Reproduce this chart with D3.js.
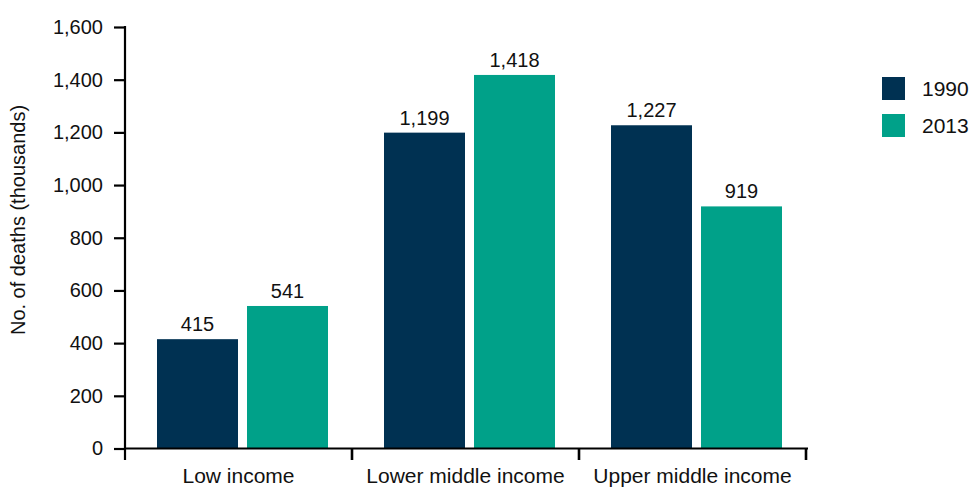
<!DOCTYPE html>
<html>
<head>
<meta charset="utf-8">
<script src="https://cdn.jsdelivr.net/npm/d3@7/dist/d3.min.js"></script>
<style>
  html, body { margin: 0; padding: 0; background: #fff; }
  svg { display: block; font-family: "Liberation Sans", Arial, Helvetica, sans-serif; }
</style>
</head>
<body>
<svg id="chart" width="972" height="487"></svg>
<script>
const categories = ["Low income", "Lower middle income", "Upper middle income"];
const seriesNames = ["1990", "2013"];
const values1990 = [415, 1199, 1227];
const values2013 = [541, 1418, 919];
const yTicks = [0, 200, 400, 600, 800, 1000, 1200, 1400, 1600];
const colors = ["#003152", "#00a189"];
const yLabel = "No. of deaths (thousands)";

const seriesValues = [values1990, values2013];
const data = categories.map((c, i) => ({
  category: c,
  vals: seriesNames.map((s, j) => ({ series: s, value: seriesValues[j][i], color: colors[j] }))
}));

const svg = d3.select("#chart");
const axisX = 125, xEnd = 806, y0 = 448.5, yTop = 27;

const y = d3.scaleLinear().domain([0, 1600]).range([y0, yTop]);
const x0 = d3.scaleBand().domain(categories).range([axisX, xEnd]).padding(0);
const x1 = d3.scaleBand().domain(seriesNames).range([32, 203]).paddingInner(0.1).paddingOuter(0);

// bars
const groups = svg.append("g").selectAll("g").data(data).join("g")
  .attr("transform", d => `translate(${x0(d.category)},0)`);
groups.selectAll("rect").data(d => d.vals).join("rect")
  .attr("x", d => x1(d.series))
  .attr("width", x1.bandwidth())
  .attr("y", d => y(d.value))
  .attr("height", d => y(0) - y(d.value))
  .attr("fill", d => d.color);
groups.selectAll("text").data(d => d.vals).join("text")
  .attr("x", d => x1(d.series) + x1.bandwidth() / 2)
  .attr("y", d => y(d.value) - 8)
  .attr("text-anchor", "middle")
  .attr("font-size", 20)
  .attr("fill", "#111")
  .text(d => d3.format(",")(d.value));

// y axis
const yAxis = d3.axisLeft(y).tickValues(yTicks).tickSize(11).tickPadding(11).tickFormat(d3.format(","));
const gy = svg.append("g").attr("transform", `translate(${axisX},0)`).call(yAxis);
gy.select(".domain").remove();
gy.selectAll(".tick line").attr("stroke", "#000").attr("stroke-width", 2.2);
gy.selectAll(".tick text").attr("font-size", 20).attr("fill", "#111")
  .attr("font-family", "Liberation Sans, Arial, sans-serif");

svg.append("line").attr("x1", axisX).attr("x2", axisX).attr("y1", yTop - 1).attr("y2", 460)
  .attr("stroke", "#000").attr("stroke-width", 2.2);

// x axis
svg.append("line").attr("x1", axisX).attr("x2", xEnd + 2).attr("y1", y0).attr("y2", y0)
  .attr("stroke", "#000").attr("stroke-width", 2.2);
const bounds = categories.map(c => x0(c) + x0.bandwidth());
svg.append("g").selectAll("line").data(bounds).join("line")
  .attr("x1", d => d).attr("x2", d => d).attr("y1", y0).attr("y2", 460)
  .attr("stroke", "#000").attr("stroke-width", 2.6);
svg.append("g").selectAll("text").data(categories).join("text")
  .attr("x", d => x0(d) + x0.bandwidth() / 2)
  .attr("y", 483)
  .attr("text-anchor", "middle")
  .attr("font-size", 21)
  .attr("fill", "#111")
  .text(d => d);

// y label
svg.append("text")
  .attr("transform", `translate(25,220) rotate(-90)`)
  .attr("text-anchor", "middle")
  .attr("font-size", 20)
  .attr("fill", "#111")
  .text(yLabel);

// legend
const legend = svg.append("g").selectAll("g").data(seriesNames).join("g")
  .attr("transform", (d, i) => `translate(882,${77 + i * 37})`);
legend.append("rect").attr("width", 23).attr("height", 23).attr("fill", (d, i) => colors[i]);
legend.append("text").attr("x", 40).attr("y", 19).attr("font-size", 21).attr("fill", "#111").text(d => d);
</script>
</body>
</html>
